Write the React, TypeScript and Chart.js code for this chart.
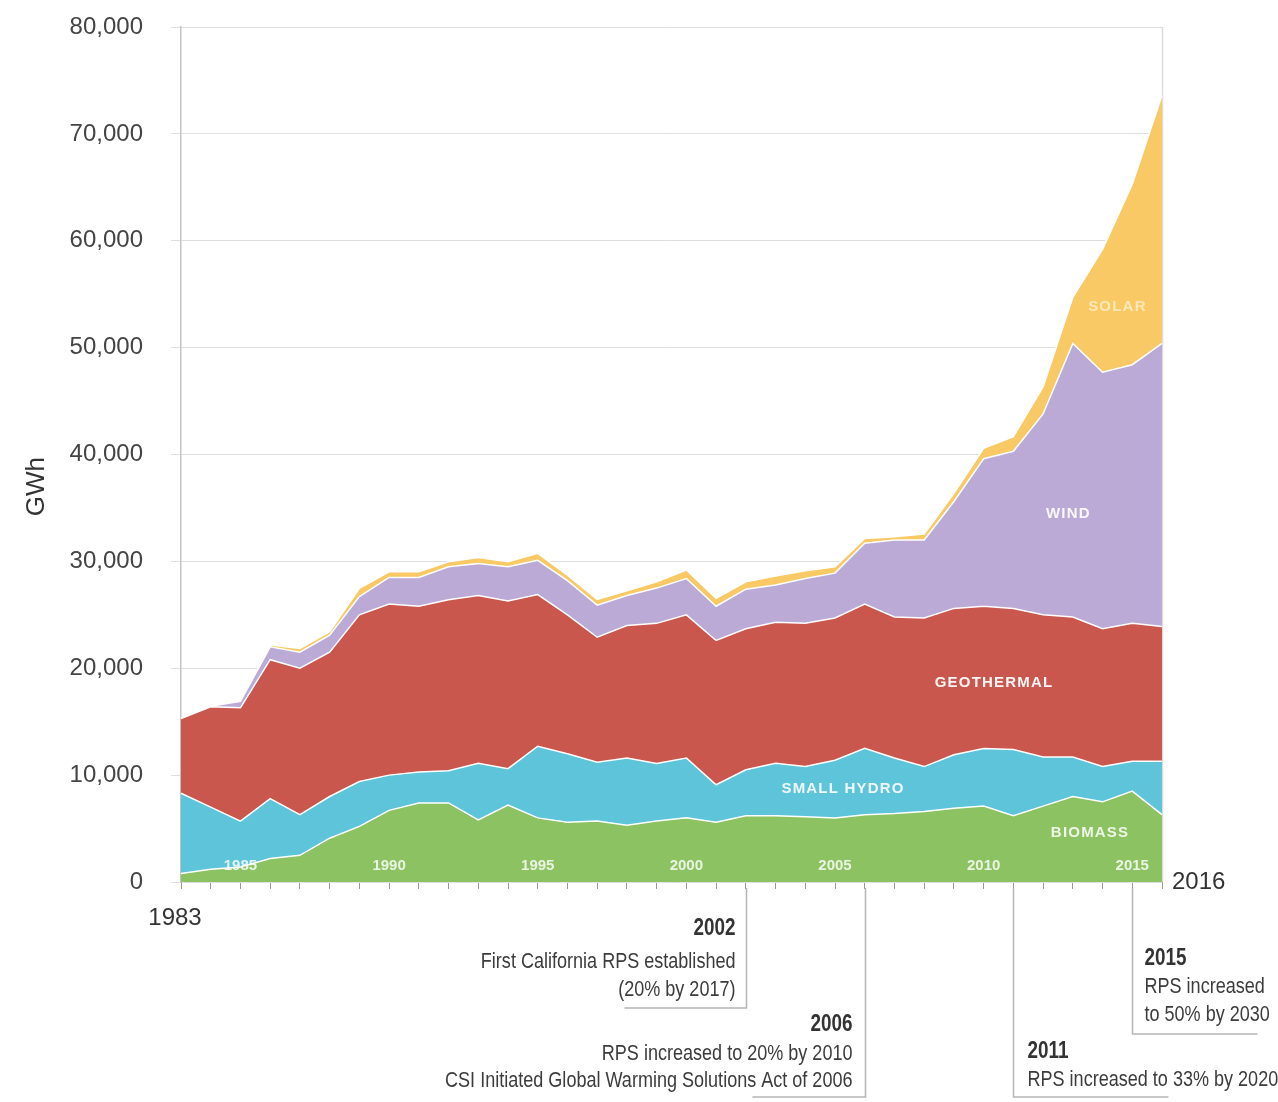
import React, { useEffect, useRef } from 'react';
import { Chart, registerables } from 'chart.js';

Chart.register(...registerables);

const years = [
  '1983', '1984', '1985', '1986', '1987', '1988', '1989', '1990', '1991', '1992',
  '1993', '1994', '1995', '1996', '1997', '1998', '1999', '2000', '2001', '2002',
  '2003', '2004', '2005', '2006', '2007', '2008', '2009', '2010', '2011', '2012',
  '2013', '2014', '2015', '2016',
];

const biomass = [
  800, 1200, 1400, 2200, 2500, 4100, 5200, 6700, 7400, 7400,
  5800, 7200, 6000, 5600, 5700, 5300, 5700, 6000, 5600, 6200,
  6200, 6100, 6000, 6300, 6400, 6600, 6900, 7100, 6200, 7100,
  8000, 7500, 8500, 6300,
];

const smallHydro = [
  7500, 5800, 4300, 5600, 3800, 3900, 4200, 3300, 2900, 3000,
  5300, 3400, 6700, 6400, 5500, 6300, 5400, 5600, 3500, 4300,
  4900, 4700, 5400, 6200, 5200, 4200, 5000, 5400, 6200, 4600,
  3700, 3300, 2800, 5000,
];

const geothermal = [
  7000, 9400, 10600, 13000, 13700, 13500, 15600, 16000, 15500, 16000,
  15700, 15700, 14200, 13000, 11700, 12400, 13100, 13400, 13500, 13200,
  13200, 13400, 13300, 13500, 13200, 13900, 13700, 13300, 13200, 13300,
  13100, 12900, 12900, 12600,
];

const wind = [
  0, 50, 600, 1200, 1500, 1600, 1700, 2500, 2700, 3100,
  3000, 3200, 3200, 3200, 3000, 2800, 3300, 3400, 3200, 3700,
  3500, 4200, 4200, 5700, 7200, 7300, 10000, 13800, 14700, 18800,
  25600, 24000, 24200, 26500,
];

const solar = [
  0, 50, 50, 170, 360, 320, 770, 530, 530, 460,
  570, 460, 650, 520, 540, 450, 590, 790, 740, 690,
  820, 720, 590, 450, 300, 550, 760, 970, 1360, 2530,
  4300, 11500, 16900, 23200,
];

const insideYearLabels = ['1985', '1990', '1995', '2000', '2005', '2010', '2015'];
const firstYear = '1983';
const lastYear = '2016';

const seriesNames = ['Biomass', 'Small Hydro', 'Geothermal', 'Wind', 'Solar'];
const seriesColors = ['#8dc262', '#5ec4da', '#c9574d', '#bcaad6', '#f8c964'];

// area labels, anchored in data coordinates (fractional year index, GWh)
const areaLabels = [
  { text: 'SOLAR', idx: 31.5, value: 53800, alpha: 0.55 },
  { text: 'WIND', idx: 29.85, value: 34400, alpha: 0.9 },
  { text: 'GEOTHERMAL', idx: 27.35, value: 18600, alpha: 0.95 },
  { text: 'SMALL HYDRO', idx: 22.27, value: 8700, alpha: 0.9 },
  { text: 'BIOMASS', idx: 30.58, value: 4600, alpha: 0.85 },
];

// policy milestones
const events = [
  {
    year: '2002', side: 'left', lineEnd: 126, hLen: 122, textGap: 11,
    headY: 47, lines: ['First California RPS established', '(20% by 2017)'], lineY: [80, 108],
  },
  {
    year: '2006', side: 'left', lineEnd: 215, hLen: 113, textGap: 13,
    headY: 143, lines: ['RPS increased to 20% by 2010', 'CSI Initiated Global Warming Solutions Act of 2006'], lineY: [172, 199],
  },
  {
    year: '2011', side: 'right', lineEnd: 215, hLen: 155, textGap: 14,
    headY: 170, lines: ['RPS increased to 33% by 2020'], lineY: [198],
  },
  {
    year: '2015', side: 'right', lineEnd: 152, hLen: 125, textGap: 12,
    headY: 77, lines: ['RPS increased', 'to 50% by 2030'], lineY: [105, 133],
  },
];

const FONT = "'Liberation Sans', Arial, Helvetica, sans-serif";

function narrowText(ctx: CanvasRenderingContext2D, text: string, x: number, y: number, align: CanvasTextAlign, font: string, color: string) {
  ctx.save();
  ctx.translate(x, y);
  ctx.scale(0.82, 1);
  ctx.font = font;
  ctx.fillStyle = color;
  ctx.textAlign = align;
  ctx.textBaseline = 'middle';
  ctx.fillText(text, 0, 0);
  ctx.restore();
}

const overlayPlugin = {
  id: 'overlay',
  beforeDatasetsDraw(chart: any) {
    const { ctx, chartArea } = chart;
    ctx.save();
    ctx.strokeStyle = '#dcdcdc';
    ctx.lineWidth = 1.5;
    ctx.beginPath();
    ctx.moveTo(chartArea.right + 0.5, chartArea.top);
    ctx.lineTo(chartArea.right + 0.5, chartArea.bottom);
    ctx.stroke();
    ctx.restore();
  },
  afterDatasetsDraw(chart: any) {
    const { ctx, chartArea } = chart;
    const xs = chart.scales.x;
    const ys = chart.scales.y;
    const bottom = chartArea.bottom;

    // Y axis title
    ctx.save();
    ctx.translate(37, ys.getPixelForValue(37000));
    ctx.rotate(-Math.PI / 2);
    ctx.font = `26px ${FONT}`;
    ctx.fillStyle = '#333';
    ctx.textAlign = 'center';
    ctx.textBaseline = 'middle';
    ctx.fillText('GWh', 0, 0);
    ctx.restore();

    // inside year labels
    ctx.save();
    ctx.font = `bold 15px ${FONT}`;
    ctx.fillStyle = 'rgba(255,255,255,0.82)';
    ctx.textAlign = 'center';
    ctx.textBaseline = 'middle';
    insideYearLabels.forEach((yr) => {
      const px = xs.getPixelForValue(years.indexOf(yr));
      ctx.fillText(yr, px, bottom - 16);
    });
    ctx.restore();

    // outer year labels
    ctx.save();
    ctx.font = `24px ${FONT}`;
    ctx.fillStyle = '#333';
    ctx.textBaseline = 'middle';
    ctx.textAlign = 'center';
    ctx.fillText(firstYear, xs.getPixelForValue(years.indexOf(firstYear)) - 6, bottom + 36);
    ctx.textAlign = 'left';
    ctx.fillText(lastYear, xs.getPixelForValue(years.indexOf(lastYear)) + 10, bottom);
    ctx.restore();

    // area labels
    ctx.save();
    ctx.font = `bold 15px ${FONT}`;
    (ctx as any).letterSpacing = '1.2px';
    ctx.textAlign = 'center';
    ctx.textBaseline = 'middle';
    areaLabels.forEach((l) => {
      ctx.fillStyle = `rgba(255,255,255,${l.alpha})`;
      ctx.fillText(l.text, xs.getPixelForValue(l.idx), ys.getPixelForValue(l.value));
    });
    ctx.restore();

    // policy milestones
    events.forEach((e) => {
      const px = Math.round(xs.getPixelForValue(years.indexOf(e.year))) + 0.5;
      const yEnd = bottom + e.lineEnd;
      ctx.save();
      ctx.strokeStyle = '#b5b5b5';
      ctx.lineWidth = 1.5;
      ctx.beginPath();
      ctx.moveTo(px, bottom + 6);
      ctx.lineTo(px, yEnd);
      ctx.lineTo(e.side === 'left' ? px - e.hLen : px + e.hLen, yEnd);
      ctx.stroke();
      ctx.restore();
      const tx = e.side === 'left' ? px - e.textGap : px + e.textGap;
      const align: CanvasTextAlign = e.side === 'left' ? 'right' : 'left';
      narrowText(ctx, e.year, tx, bottom + e.headY, align, `bold 23px ${FONT}`, '#333');
      e.lines.forEach((t, i) => {
        narrowText(ctx, t, tx, bottom + e.lineY[i], align, `22px ${FONT}`, '#3c3c3c');
      });
    });
  },
};

export default function App() {
  const canvasRef = useRef<HTMLCanvasElement | null>(null);

  useEffect(() => {
    if (!canvasRef.current) return;
    const seriesData = [biomass, smallHydro, geothermal, wind, solar];
    const chart = new Chart(canvasRef.current, {
      type: 'line',
      data: {
        labels: years,
        datasets: seriesData.map((d, i) => ({
          label: seriesNames[i],
          data: d,
          backgroundColor: seriesColors[i],
          borderColor: '#ffffff',
          borderWidth: 1.5,
          fill: i === 0 ? 'origin' : '-1',
          pointRadius: 0,
          tension: 0,
        })),
      },
      options: {
        animation: false,
        responsive: false,
        devicePixelRatio: 1,
        layout: { padding: { left: 0, right: 116, top: 27, bottom: 0 } },
        plugins: {
          legend: { display: false },
          tooltip: { enabled: false },
        },
        scales: {
          x: {
            type: 'category',
            offset: false,
            grid: { drawOnChartArea: false, drawTicks: true, tickLength: 7, color: '#9a9a9a', lineWidth: 1 },
            border: { display: false },
            ticks: { autoSkip: false, maxRotation: 0, callback: () => '' },
            afterFit: (s: any) => { s.height = 220; },
          },
          y: {
            stacked: true,
            min: 0,
            max: 80000,
            grid: { color: '#dedede', lineWidth: 1, tickLength: 10 },
            border: { display: true, color: '#c4c4c4', width: 1.5 },
            ticks: {
              stepSize: 10000,
              padding: 28,
              color: '#444',
              font: { family: FONT, size: 24 },
              callback: (v: any) => Number(v).toLocaleString('en-US'),
            },
            afterFit: (s: any) => {
              s.width = 181;
              s.paddingTop = 14;
              s.paddingBottom = 14;
            },
          },
        },
      },
      plugins: [overlayPlugin],
    });
    return () => chart.destroy();
  }, []);

  return (
    <div style={{ position: 'absolute', left: 0, top: 0, width: 1278, height: 1102, background: '#fff' }}>
      <canvas ref={canvasRef} width={1278} height={1102} style={{ display: 'block' }} />
    </div>
  );
}
